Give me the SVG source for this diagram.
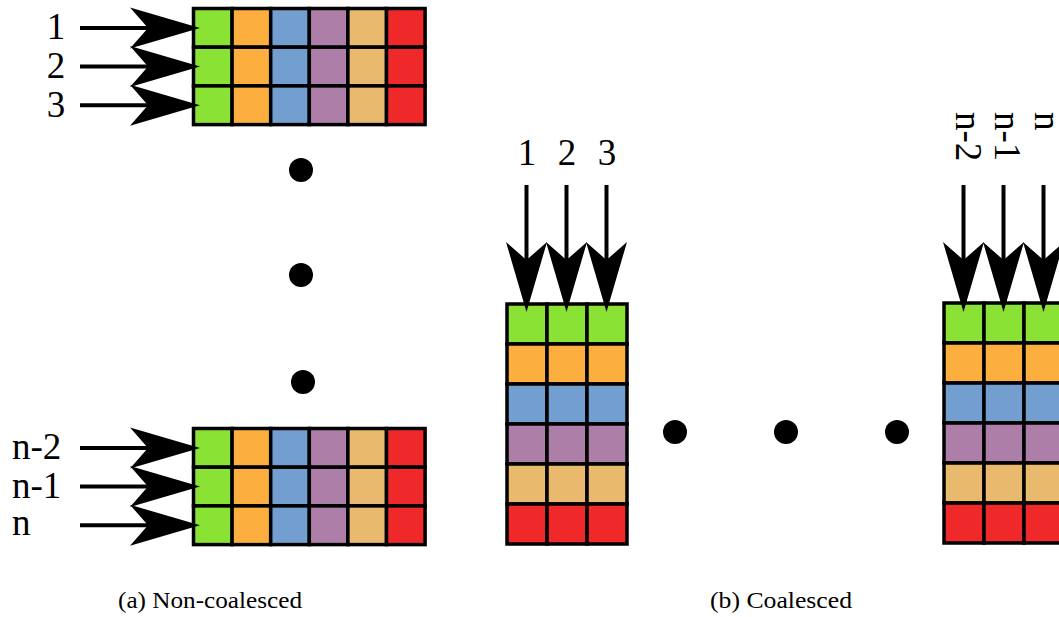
<svg xmlns="http://www.w3.org/2000/svg" xmlns:xlink="http://www.w3.org/1999/xlink" width="1059" height="617" viewBox="0 0 1059 617">
<style>
.g{fill:#8ae234}.o{fill:#fcaf3e}.b{fill:#729fcf}.p{fill:#ad7fa8}.t{fill:#e9b96e}.r{fill:#ef2929}
rect{stroke:#000;stroke-width:3.5}
.ln{stroke:#000;stroke-width:4;fill:none}
.lbl{font-family:"Liberation Serif",serif;font-size:37px;fill:#000}
.cap{font-family:"Liberation Serif",serif;font-size:24px;fill:#000}
.dot{fill:#000}
</style>
<defs>
<path id="ah" d="M0,0 L-70,-20.5 L-52,0 L-70,20.5 Z" fill="#000"/>
<g id="row6">
<rect class="g" x="0" y="0" width="38.6" height="38.7"/>
<rect class="o" x="38.6" y="0" width="38.6" height="38.7"/>
<rect class="b" x="77.2" y="0" width="38.6" height="38.7"/>
<rect class="p" x="115.8" y="0" width="38.6" height="38.7"/>
<rect class="t" x="154.4" y="0" width="38.6" height="38.7"/>
<rect class="r" x="193" y="0" width="38.6" height="38.7"/>
</g>
<g id="col6">
<rect class="g" x="0" y="0" width="40" height="40"/>
<rect class="o" x="0" y="40" width="40" height="40"/>
<rect class="b" x="0" y="80" width="40" height="40"/>
<rect class="p" x="0" y="120" width="40" height="40"/>
<rect class="t" x="0" y="160" width="40" height="40"/>
<rect class="r" x="0" y="200" width="40" height="40"/>
</g>
</defs>

<g id="grid-a-top">
<use xlink:href="#row6" x="193.5" y="8.5"/>
<use xlink:href="#row6" x="193.5" y="47.2"/>
<use xlink:href="#row6" x="193.5" y="85.9"/>
</g>
<g id="grid-a-bottom">
<use xlink:href="#row6" x="193.5" y="428.5"/>
<use xlink:href="#row6" x="193.5" y="467.2"/>
<use xlink:href="#row6" x="193.5" y="505.9"/>
</g>
<g id="grid-b-left">
<use xlink:href="#col6" x="507" y="304"/>
<use xlink:href="#col6" x="547" y="304"/>
<use xlink:href="#col6" x="587" y="304"/>
</g>
<g id="grid-b-right">
<use xlink:href="#col6" x="944" y="303"/>
<use xlink:href="#col6" x="984" y="303"/>
<use xlink:href="#col6" x="1024" y="303"/>
</g>

<g id="connectors">
<line class="ln" x1="80" y1="27.9" x2="152" y2="27.9"/>
<use xlink:href="#ah" transform="translate(200 27.9)"/>
<line class="ln" x1="80" y1="66.6" x2="152" y2="66.6"/>
<use xlink:href="#ah" transform="translate(200 66.6)"/>
<line class="ln" x1="80" y1="105.3" x2="152" y2="105.3"/>
<use xlink:href="#ah" transform="translate(200 105.3)"/>
<line class="ln" x1="80" y1="447.9" x2="152" y2="447.9"/>
<use xlink:href="#ah" transform="translate(200 447.9)"/>
<line class="ln" x1="80" y1="486.6" x2="152" y2="486.6"/>
<use xlink:href="#ah" transform="translate(200 486.6)"/>
<line class="ln" x1="80" y1="525.3" x2="152" y2="525.3"/>
<use xlink:href="#ah" transform="translate(200 525.3)"/>

<line class="ln" x1="526.5" y1="185" x2="526.5" y2="264"/>
<use xlink:href="#ah" transform="translate(526.5 312) rotate(90)"/>
<line class="ln" x1="566.5" y1="185" x2="566.5" y2="264"/>
<use xlink:href="#ah" transform="translate(566.5 312) rotate(90)"/>
<line class="ln" x1="606.5" y1="185" x2="606.5" y2="264"/>
<use xlink:href="#ah" transform="translate(606.5 312) rotate(90)"/>

<line class="ln" x1="963.5" y1="185" x2="963.5" y2="264"/>
<use xlink:href="#ah" transform="translate(963.5 312) rotate(90)"/>
<line class="ln" x1="1003.5" y1="185" x2="1003.5" y2="264"/>
<use xlink:href="#ah" transform="translate(1003.5 312) rotate(90)"/>
<line class="ln" x1="1043.5" y1="185" x2="1043.5" y2="264"/>
<use xlink:href="#ah" transform="translate(1043.5 312) rotate(90)"/>
</g>

<g id="labels">
<text class="lbl" x="56" y="39" text-anchor="middle">1</text>
<text class="lbl" x="56" y="78" text-anchor="middle">2</text>
<text class="lbl" x="56" y="117" text-anchor="middle">3</text>
<text class="lbl" x="12" y="459">n-2</text>
<text class="lbl" x="12" y="498">n-1</text>
<text class="lbl" x="12" y="535">n</text>
<text class="lbl" x="527" y="165" text-anchor="middle">1</text>
<text class="lbl" x="567" y="165" text-anchor="middle">2</text>
<text class="lbl" x="607" y="165" text-anchor="middle">3</text>
<text class="lbl" x="956" y="112" transform="rotate(90 956 112)">n-2</text>
<text class="lbl" x="995" y="112" transform="rotate(90 995 112)">n-1</text>
<text class="lbl" x="1035" y="112" transform="rotate(90 1035 112)">n</text>
<text class="cap" x="118" y="608" textLength="184" lengthAdjust="spacingAndGlyphs">(a) Non-coalesced</text>
<text class="cap" x="710" y="608" textLength="142" lengthAdjust="spacingAndGlyphs">(b) Coalesced</text>
</g>

<g id="dots">
<circle class="dot" cx="301" cy="170" r="12"/>
<circle class="dot" cx="301" cy="275" r="12"/>
<circle class="dot" cx="303" cy="382" r="12"/>
<circle class="dot" cx="675" cy="432" r="12"/>
<circle class="dot" cx="786" cy="432" r="12"/>
<circle class="dot" cx="897" cy="432" r="12"/>
</g>
</svg>
